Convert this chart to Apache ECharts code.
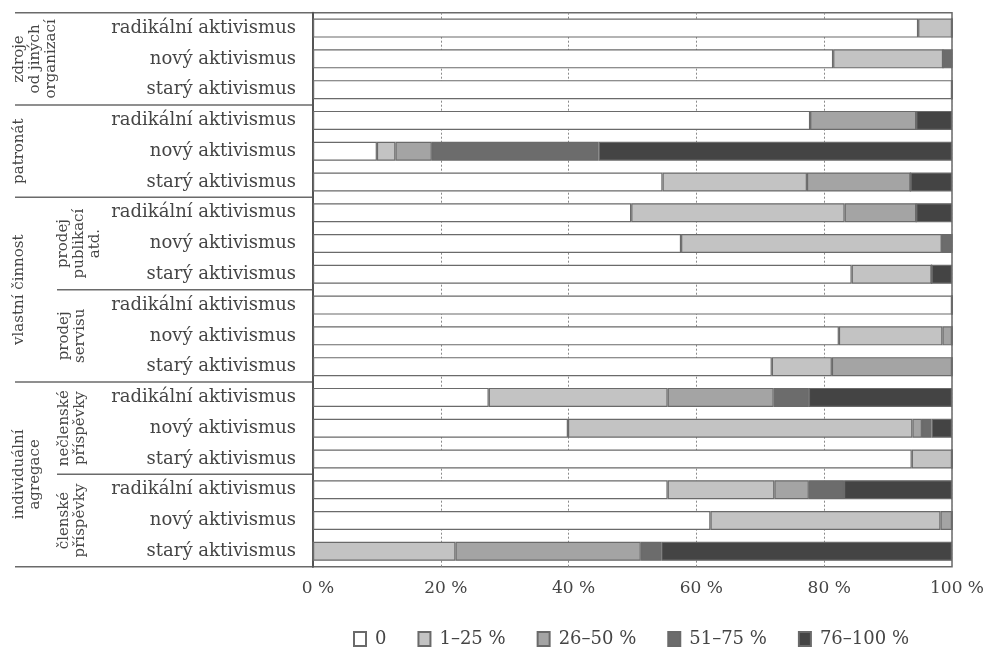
<!DOCTYPE html>
<html>
<head>
<meta charset="utf-8">
<script src="https://cdn.jsdelivr.net/npm/echarts@6/dist/echarts.min.js"></script>
<style>
html,body{margin:0;padding:0;background:#fff;}
#chart{width:989px;height:650px;}
</style>
</head>
<body>
<div id="chart"></div>
<script>
// ---- data ----
var rowLabels = [
  'radikální aktivismus','nový aktivismus','starý aktivismus',
  'radikální aktivismus','nový aktivismus','starý aktivismus',
  'radikální aktivismus','nový aktivismus','starý aktivismus',
  'radikální aktivismus','nový aktivismus','starý aktivismus',
  'radikální aktivismus','nový aktivismus','starý aktivismus',
  'radikální aktivismus','nový aktivismus','starý aktivismus'
];
var seriesNames = ['0', '1–25 %', '26–50 %', '51–75 %', '76–100 %'];
var share0     = [94.7, 81.4, 100, 77.8, 10.0, 54.7, 49.8, 57.6, 84.3, 100, 82.3, 71.8, 27.5, 39.9, 93.7, 55.5, 62.2, 0];
var share1_25  = [5.3, 17.2, 0, 0, 2.9, 22.6, 33.4, 40.8, 12.5, 0, 16.2, 9.4, 28.0, 53.9, 6.3, 16.7, 36.0, 22.3];
var share26_50 = [0, 0, 0, 16.6, 5.7, 16.2, 11.2, 0, 0, 0, 1.5, 18.8, 16.6, 1.5, 0, 5.4, 1.8, 29.0];
var share51_75 = [0, 1.4, 0, 0, 26.1, 0, 0, 1.6, 0, 0, 0, 0, 5.5, 1.5, 0, 5.5, 0, 3.2];
var share76_100= [0, 0, 0, 5.6, 55.3, 6.5, 5.6, 0, 3.2, 0, 0, 0, 22.4, 3.2, 0, 16.9, 0, 45.5];
var xTicks = [0, 20, 40, 60, 80, 100];
// group labels: [text, firstRow, lastRow, column]
var groupLabels = [
  ['zdroje\nod jiných\norganizací', 0, 2, 'outer'],
  ['patronát', 3, 5, 'outer'],
  ['vlastní činnost', 6, 11, 'outer'],
  ['prodej\npublikací\natd.', 6, 8, 'inner'],
  ['prodej\nservisu', 9, 11, 'inner'],
  ['individuální\nagregace', 12, 17, 'outer'],
  ['nečlenské\npříspěvky', 12, 14, 'inner'],
  ['členské\npříspěvky', 15, 17, 'inner']
];
// separator lines: [boundary index (row), extent]
var separators = [[0,'full'],[3,'full'],[6,'full'],[9,'inner'],[12,'full'],[15,'inner'],[18,'full']];

// ---- style ----
var FONT = 'DejaVu Serif';
var TXT = '#454545';
var colors = ['#ffffff', '#c3c3c3', '#a4a4a4', '#6c6c6c', '#444444'];
var allData = [share0, share1_25, share26_50, share51_75, share76_100];

var chart = echarts.init(document.getElementById('chart'), null, {renderer: 'canvas'});
var series = seriesNames.map(function (n, i) {
  return {
    name: n, type: 'bar', stack: 'total', data: allData[i],
    barWidth: 19,
    itemStyle: {color: colors[i], borderColor: '#6a6a6a', borderWidth: 1.2},
    emphasis: {disabled: true}
  };
});

chart.setOption({
  animation: false,
  backgroundColor: '#ffffff',
  textStyle: {fontFamily: FONT},
  grid: {left: 313, right: 37, top: 12.7, height: 554, show: true, borderColor: '#6a6a6a', borderWidth: 1.5, backgroundColor: 'transparent'},
  xAxis: {
    type: 'value', min: 0, max: 100, interval: 20,
    axisLine: {show: false}, axisTick: {show: false},
    axisLabel: {formatter: '{value} %', fontFamily: FONT, fontSize: 17, color: TXT, margin: 13, padding: [0, 0, 0, 10]},
    splitLine: {show: true, lineStyle: {color: '#8a8a8a', type: [2, 2], width: 1}}
  },
  yAxis: {
    type: 'category', inverse: true,
    data: rowLabels.map(function (s, i) { return String(i); }),
    axisLine: {show: true, lineStyle: {color: '#555', width: 2}},
    axisTick: {show: false},
    axisLabel: {formatter: function (v) { return rowLabels[+v]; }, fontFamily: FONT, fontSize: 18, color: TXT, margin: 17}
  },
  legend: {
    data: seriesNames, left: 348, top: 625, itemWidth: 12, itemHeight: 14, itemGap: 31,
    icon: 'rect', selectedMode: false,
    textStyle: {fontFamily: FONT, fontSize: 18, color: TXT, padding: [0, 0, 0, 4]}
  },
  series: series
});

function drawDecor() {
  var grid = chart.getModel().getComponent('grid').coordinateSystem.getRect();
  var band = grid.height / rowLabels.length;
  var elems = [];
  separators.forEach(function (s) {
    var y = grid.y + s[0] * band;
    var x0 = s[1] === 'full' ? 15 : 57;
    elems.push({type: 'line', shape: {x1: x0, y1: y, x2: grid.x, y2: y}, style: {stroke: '#6a6a6a', lineWidth: 1.5}, silent: true});
  });
  groupLabels.forEach(function (g) {
    var yc = grid.y + (g[1] + g[2] + 1) / 2 * band;
    var lines = g[0].split('\n').length;
    var xc = g[3] === 'outer' ? (lines === 1 ? 19 : (lines === 2 ? 27 : 35)) : (lines === 2 ? 72 : 79);
    elems.push({
      type: 'text', x: xc, y: yc, rotation: Math.PI / 2,
      style: {text: g[0], fontFamily: FONT, fontSize: 15, lineHeight: 16, fill: TXT, align: 'center', verticalAlign: 'middle'},
      silent: true
    });
  });
  chart.setOption({graphic: {elements: elems}});
}
drawDecor();
</script>
</body>
</html>
